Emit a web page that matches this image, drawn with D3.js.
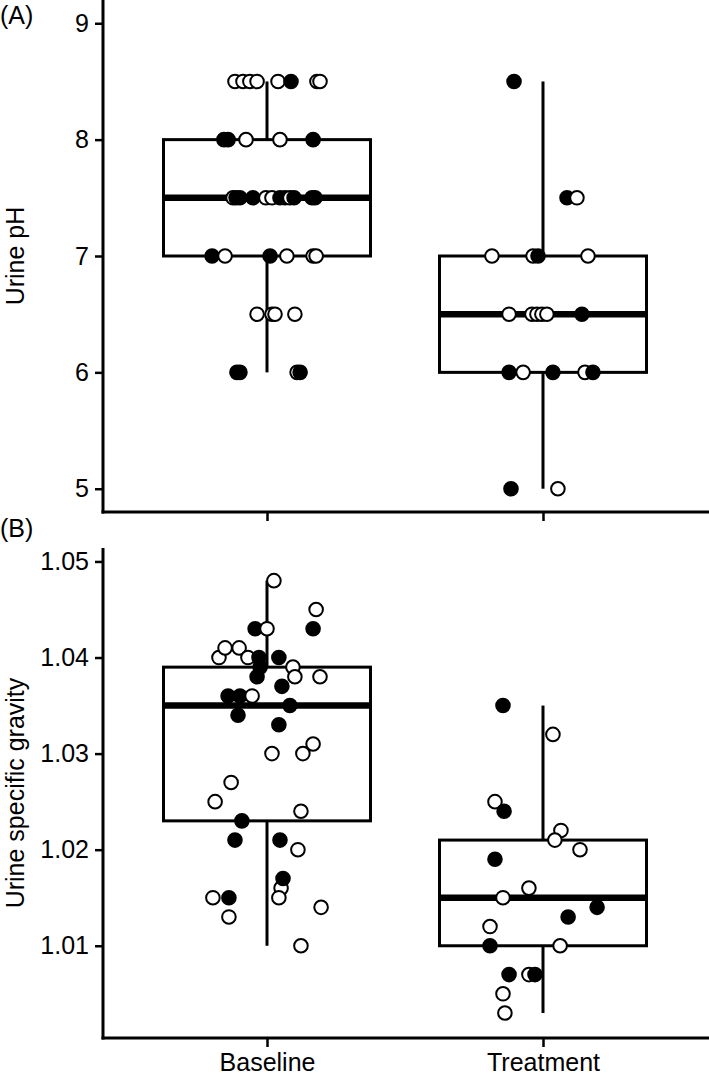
<!DOCTYPE html>
<html>
<head>
<meta charset="utf-8">
<script src="https://cdn.jsdelivr.net/npm/d3@7"></script>
<style>
  body { margin: 0; background: #fff; }
  text { font-family: "Liberation Sans", Arial, sans-serif; fill: #000; }
</style>
</head>
<body>
<svg width="709" height="1075"></svg>
<script>

var groups = ["Baseline", "Treatment"]

// box statistics: [lower whisker, q1, median, q3, upper whisker]
var ph_boxes = [[6, 7, 7.5, 8, 8.5], [5, 6, 6.5, 7, 8.5]]
var sg_boxes = [[1.010, 1.023, 1.035, 1.039, 1.048], [1.003, 1.010, 1.015, 1.021, 1.035]]

var ph_ticks = [5, 6, 7, 8, 9]
var sg_ticks = [1.01, 1.02, 1.03, 1.04, 1.05]

// points: [group, value, jitter (fraction of category step), filled]
var ph_points = [
  [0, 8.5, -0.116, 0], [0, 8.5, -0.087, 0], [0, 8.5, -0.062, 0], [0, 8.5, -0.036, 0],
  [0, 8.5, 0.040, 0], [0, 8.5, 0.087, 1], [0, 8.5, 0.181, 0], [0, 8.5, 0.192, 0],
  [0, 8, -0.156, 1], [0, 8, -0.141, 1], [0, 8, -0.076, 0], [0, 8, 0.047, 0], [0, 8, 0.167, 1],
  [0, 7.5, -0.123, 0], [0, 7.5, -0.112, 1], [0, 7.5, -0.098, 1], [0, 7.5, -0.051, 1],
  [0, 7.5, -0.004, 0], [0, 7.5, 0.018, 0], [0, 7.5, 0.047, 1], [0, 7.5, 0.065, 1],
  [0, 7.5, 0.083, 0], [0, 7.5, 0.098, 1], [0, 7.5, 0.163, 1], [0, 7.5, 0.174, 1],
  [0, 7, -0.199, 1], [0, 7, -0.152, 0], [0, 7, 0.011, 1], [0, 7, 0.072, 0], [0, 7, 0.167, 0], [0, 7, 0.178, 0],
  [0, 6.5, -0.036, 0], [0, 6.5, 0.018, 0], [0, 6.5, 0.029, 0], [0, 6.5, 0.101, 0],
  [0, 6, -0.109, 1], [0, 6, -0.098, 1], [0, 6, 0.109, 0], [0, 6, 0.120, 1],
  [1, 8.5, -0.105, 1],
  [1, 7.5, 0.087, 1], [1, 7.5, 0.123, 0],
  [1, 7, -0.185, 0], [1, 7, -0.036, 0], [1, 7, -0.018, 1], [1, 7, 0.163, 0],
  [1, 6.5, -0.123, 0], [1, 6.5, -0.040, 0], [1, 6.5, -0.022, 0], [1, 6.5, -0.004, 0],
  [1, 6.5, 0.014, 0], [1, 6.5, 0.141, 1],
  [1, 6, -0.123, 1], [1, 6, -0.072, 0], [1, 6, 0.036, 1], [1, 6, 0.152, 0], [1, 6, 0.181, 1],
  [1, 5, -0.116, 1], [1, 5, 0.054, 0]
]

var sg_points = [
  [0, 1.048, 0.025, 0], [0, 1.045, 0.178, 0], [0, 1.043, 0.167, 1], [0, 1.043, -0.043, 1],
  [0, 1.043, 0.000, 0], [0, 1.040, -0.174, 0], [0, 1.041, -0.152, 0], [0, 1.041, -0.101, 0],
  [0, 1.040, -0.069, 0], [0, 1.040, -0.029, 1], [0, 1.040, 0.043, 1], [0, 1.039, -0.025, 1],
  [0, 1.039, 0.094, 0], [0, 1.038, 0.101, 0], [0, 1.038, 0.192, 0], [0, 1.038, -0.036, 1],
  [0, 1.037, 0.054, 1], [0, 1.036, -0.141, 1], [0, 1.036, -0.098, 1], [0, 1.036, -0.054, 0],
  [0, 1.035, 0.083, 1], [0, 1.034, -0.105, 1], [0, 1.033, 0.043, 1], [0, 1.031, 0.167, 0],
  [0, 1.030, 0.018, 0], [0, 1.030, 0.130, 0], [0, 1.027, -0.130, 0], [0, 1.025, -0.188, 0],
  [0, 1.023, -0.091, 1], [0, 1.024, 0.123, 0], [0, 1.021, -0.116, 1], [0, 1.021, 0.047, 1],
  [0, 1.020, 0.112, 0], [0, 1.016, 0.051, 0], [0, 1.015, 0.043, 0], [0, 1.017, 0.058, 1],
  [0, 1.015, -0.196, 0], [0, 1.015, -0.138, 1], [0, 1.013, -0.138, 0], [0, 1.014, 0.196, 0],
  [0, 1.010, 0.123, 0],
  [1, 1.035, -0.145, 1], [1, 1.032, 0.036, 0], [1, 1.025, -0.174, 0], [1, 1.024, -0.141, 1],
  [1, 1.022, 0.065, 0], [1, 1.021, 0.043, 0], [1, 1.020, 0.134, 0], [1, 1.019, -0.174, 1],
  [1, 1.016, -0.051, 0], [1, 1.015, -0.145, 0], [1, 1.014, 0.196, 1], [1, 1.013, 0.091, 1],
  [1, 1.012, -0.192, 0], [1, 1.010, -0.192, 1], [1, 1.010, 0.062, 0], [1, 1.007, -0.123, 1],
  [1, 1.007, -0.051, 0], [1, 1.007, -0.029, 1], [1, 1.005, -0.145, 0], [1, 1.003, -0.138, 0]
]

var svg = d3.select("svg")

// discrete x positions, shared by both panels
var x = d3.scalePoint().domain(groups).range([267, 543])
var step = x.step()
var box_w = 0.75 * step

function panel(opts) {
  var y = d3.scaleLinear().domain(opts.domain).range(opts.range)
  var g = svg.append("g")

  // boxes
  var boxes = g.selectAll(".box").data(opts.boxes).enter().append("g")
  boxes.append("line")
    .attr("x1", function(d, i){ return x(groups[i]); })
    .attr("x2", function(d, i){ return x(groups[i]); })
    .attr("y1", function(d){ return y(d[0]); })
    .attr("y2", function(d){ return y(d[1]); })
    .style("stroke", "#000").style("stroke-width", 3)
  boxes.append("line")
    .attr("x1", function(d, i){ return x(groups[i]); })
    .attr("x2", function(d, i){ return x(groups[i]); })
    .attr("y1", function(d){ return y(d[3]); })
    .attr("y2", function(d){ return y(d[4]); })
    .style("stroke", "#000").style("stroke-width", 3)
  boxes.append("rect")
    .attr("x", function(d, i){ return x(groups[i]) - box_w / 2; })
    .attr("width", box_w)
    .attr("y", function(d){ return y(d[3]); })
    .attr("height", function(d){ return y(d[1]) - y(d[3]); })
    .style("fill", "#fff").style("stroke", "#000").style("stroke-width", 3)
  boxes.append("line")
    .attr("x1", function(d, i){ return x(groups[i]) - box_w / 2; })
    .attr("x2", function(d, i){ return x(groups[i]) + box_w / 2; })
    .attr("y1", function(d){ return y(d[2]); })
    .attr("y2", function(d){ return y(d[2]); })
    .style("stroke", "#000").style("stroke-width", 6.5)

  // jittered points
  g.selectAll(".pt").data(opts.points).enter().append("circle")
    .attr("cx", function(d){ return x(groups[d[0]]) + d[2] * step; })
    .attr("cy", function(d){ return y(d[1]); })
    .attr("r", 6.8)
    .style("fill", function(d){ return d[3] ? "#000" : "#fff"; })
    .style("stroke", "#000")
    .style("stroke-width", 2)

  // axes
  var yAxis = d3.axisLeft(y).tickValues(opts.ticks).tickSize(8).tickPadding(6)
    .tickFormat(opts.format)
  var ya = g.append("g").attr("transform", "translate(103,0)").call(yAxis)
  ya.select(".domain").remove()
  ya.selectAll(".tick line").style("stroke", "#000").style("stroke-width", 2.5)
  ya.selectAll(".tick text").style("font-size", "25px").style("font-family", "Liberation Sans, Arial, sans-serif")
  g.append("line")
    .attr("x1", 103).attr("x2", 103)
    .attr("y1", opts.range[1]).attr("y2", opts.range[0] + 1.5)
    .style("stroke", "#000").style("stroke-width", 3)

  var xAxis = d3.axisBottom(x).tickSize(9).tickPadding(6)
    .tickFormat(opts.xlabels ? null : function(){ return ""; })
  var xa = g.append("g").attr("transform", "translate(0," + opts.range[0] + ")").call(xAxis)
  xa.select(".domain").remove()
  xa.selectAll(".tick line").style("stroke", "#000").style("stroke-width", 2.5)
  xa.selectAll(".tick text").style("font-size", "25px").style("font-family", "Liberation Sans, Arial, sans-serif")
  g.append("line")
    .attr("x1", 101.5).attr("x2", 709)
    .attr("y1", opts.range[0]).attr("y2", opts.range[0])
    .style("stroke", "#000").style("stroke-width", 3)

  // axis title and panel tag
  g.append("text")
    .attr("transform", "translate(24," + (opts.range[0] + opts.range[1]) / 2 + ") rotate(-90)")
    .attr("text-anchor", "middle")
    .style("font-size", "25px")
    .text(opts.title)
  g.append("text")
    .attr("x", 0).attr("y", opts.tagY)
    .style("font-size", "25px")
    .text(opts.tag)
}

panel({
  domain: [4.8, 9.2], range: [512, 0], boxes: ph_boxes, points: ph_points,
  ticks: ph_ticks, format: d3.format("d"), title: "Urine pH", tag: "(A)", tagY: 24, xlabels: false
})

panel({
  domain: [1.0004, 1.0514], range: [1038, 548], boxes: sg_boxes, points: sg_points,
  ticks: sg_ticks, format: d3.format(".2f"), title: "Urine specific gravity", tag: "(B)", tagY: 537, xlabels: true
})

</script>
</body>
</html>
